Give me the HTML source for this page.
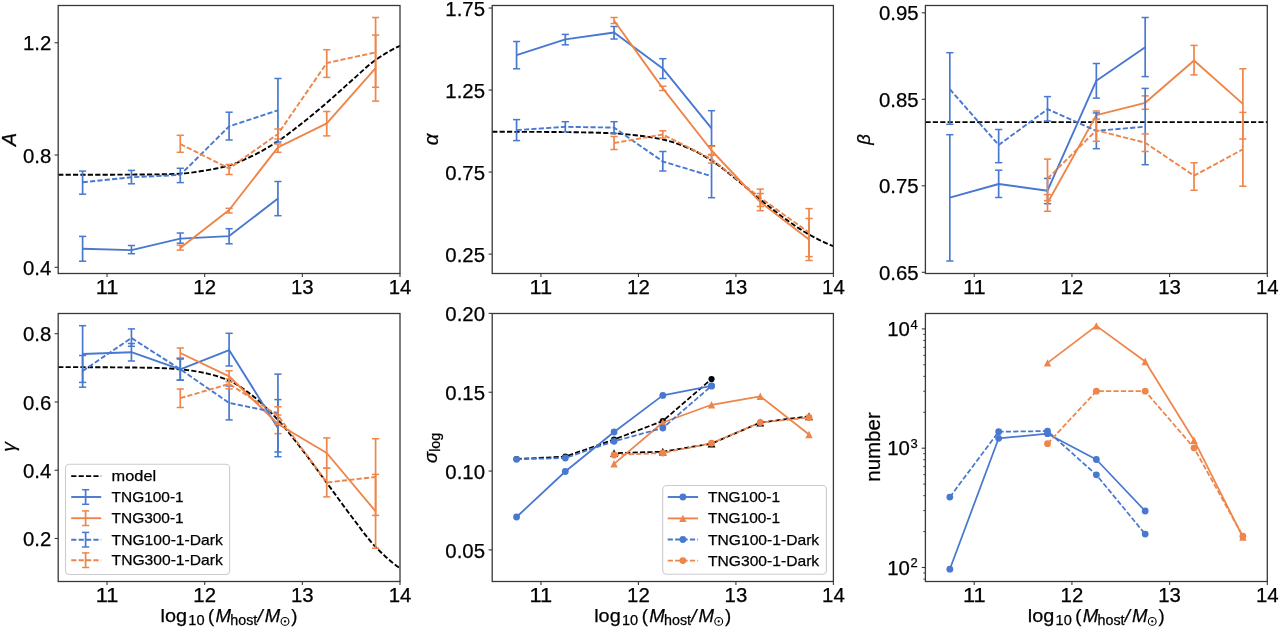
<!DOCTYPE html>
<html><head><meta charset="utf-8"><style>
html,body{margin:0;padding:0;background:#fff;}
svg{display:block;font-family:"Liberation Sans", sans-serif;filter:blur(0.3px);}
text{stroke:#000;stroke-width:0.25px;}
</style></head><body>
<svg width="1280" height="628" viewBox="0 0 1280 628">
<rect width="1280" height="628" fill="#fff"/>
<polyline points="58.20,174.80 61.07,174.80 63.94,174.80 66.82,174.80 69.69,174.79 72.56,174.79 75.43,174.78 78.31,174.78 81.18,174.77 84.05,174.77 86.92,174.76 89.79,174.75 92.67,174.74 95.54,174.73 98.41,174.73 101.28,174.72 104.16,174.71 107.03,174.70 109.90,174.69 112.77,174.68 115.65,174.67 118.52,174.66 121.39,174.65 124.26,174.64 127.13,174.62 130.01,174.61 132.88,174.59 135.75,174.57 138.62,174.55 141.50,174.53 144.37,174.51 147.24,174.48 150.11,174.46 152.98,174.43 155.86,174.40 158.73,174.36 161.60,174.31 164.47,174.25 167.35,174.18 170.22,174.09 173.09,174.00 175.96,173.89 178.84,173.77 181.71,173.62 184.58,173.41 187.45,173.12 190.32,172.78 193.20,172.39 196.07,171.97 198.94,171.52 201.81,171.06 204.69,170.60 207.56,170.13 210.43,169.63 213.30,169.09 216.17,168.52 219.05,167.91 221.92,167.25 224.79,166.55 227.66,165.80 230.54,164.98 233.41,164.05 236.28,163.01 239.15,161.87 242.03,160.65 244.90,159.37 247.77,158.04 250.64,156.68 253.51,155.30 256.39,153.88 259.26,152.38 262.13,150.81 265.00,149.18 267.88,147.49 270.75,145.75 273.62,143.96 276.49,142.13 279.36,140.25 282.24,138.29 285.11,136.24 287.98,134.13 290.85,131.96 293.73,129.75 296.60,127.51 299.47,125.26 302.34,123.00 305.22,120.73 308.09,118.42 310.96,116.09 313.83,113.72 316.70,111.33 319.58,108.92 322.45,106.48 325.32,104.03 328.19,101.56 331.07,99.04 333.94,96.49 336.81,93.90 339.68,91.30 342.55,88.70 345.43,86.11 348.30,83.54 351.17,81.00 354.04,78.44 356.92,75.83 359.79,73.20 362.66,70.59 365.53,68.03 368.41,65.56 371.28,63.21 374.15,61.02 377.02,59.01 379.89,57.08 382.77,55.21 385.64,53.42 388.51,51.71 391.38,50.09 394.26,48.56 397.13,47.13 400.00,45.80" fill="none" stroke="#000" stroke-width="1.9" stroke-dasharray="5.2 2.2" stroke-linejoin="round"/>
<polyline points="82.61,248.80 131.44,250.10 180.27,238.60 229.10,236.10 277.93,198.60" fill="none" stroke="#4878d0" stroke-width="1.9" stroke-linejoin="round"/>
<line x1="82.61" y1="236.40" x2="82.61" y2="261.20" stroke="#4878d0" stroke-width="1.7"/>
<line x1="79.01" y1="236.40" x2="86.21" y2="236.40" stroke="#4878d0" stroke-width="1.5"/>
<line x1="79.01" y1="261.20" x2="86.21" y2="261.20" stroke="#4878d0" stroke-width="1.5"/>
<line x1="131.44" y1="245.50" x2="131.44" y2="253.70" stroke="#4878d0" stroke-width="1.7"/>
<line x1="127.84" y1="245.50" x2="135.04" y2="245.50" stroke="#4878d0" stroke-width="1.5"/>
<line x1="127.84" y1="253.70" x2="135.04" y2="253.70" stroke="#4878d0" stroke-width="1.5"/>
<line x1="180.27" y1="233.00" x2="180.27" y2="243.20" stroke="#4878d0" stroke-width="1.7"/>
<line x1="176.67" y1="233.00" x2="183.87" y2="233.00" stroke="#4878d0" stroke-width="1.5"/>
<line x1="176.67" y1="243.20" x2="183.87" y2="243.20" stroke="#4878d0" stroke-width="1.5"/>
<line x1="229.10" y1="228.70" x2="229.10" y2="243.80" stroke="#4878d0" stroke-width="1.7"/>
<line x1="225.50" y1="228.70" x2="232.70" y2="228.70" stroke="#4878d0" stroke-width="1.5"/>
<line x1="225.50" y1="243.80" x2="232.70" y2="243.80" stroke="#4878d0" stroke-width="1.5"/>
<line x1="277.93" y1="181.50" x2="277.93" y2="215.70" stroke="#4878d0" stroke-width="1.7"/>
<line x1="274.33" y1="181.50" x2="281.53" y2="181.50" stroke="#4878d0" stroke-width="1.5"/>
<line x1="274.33" y1="215.70" x2="281.53" y2="215.70" stroke="#4878d0" stroke-width="1.5"/>
<polyline points="180.27,248.00 229.10,210.00 277.93,147.40 326.76,123.30 375.59,68.20" fill="none" stroke="#ee854a" stroke-width="1.9" stroke-linejoin="round"/>
<line x1="180.27" y1="245.20" x2="180.27" y2="250.10" stroke="#ee854a" stroke-width="1.7"/>
<line x1="176.67" y1="245.20" x2="183.87" y2="245.20" stroke="#ee854a" stroke-width="1.5"/>
<line x1="176.67" y1="250.10" x2="183.87" y2="250.10" stroke="#ee854a" stroke-width="1.5"/>
<line x1="229.10" y1="208.30" x2="229.10" y2="213.00" stroke="#ee854a" stroke-width="1.7"/>
<line x1="225.50" y1="208.30" x2="232.70" y2="208.30" stroke="#ee854a" stroke-width="1.5"/>
<line x1="225.50" y1="213.00" x2="232.70" y2="213.00" stroke="#ee854a" stroke-width="1.5"/>
<line x1="277.93" y1="144.00" x2="277.93" y2="152.30" stroke="#ee854a" stroke-width="1.7"/>
<line x1="274.33" y1="144.00" x2="281.53" y2="144.00" stroke="#ee854a" stroke-width="1.5"/>
<line x1="274.33" y1="152.30" x2="281.53" y2="152.30" stroke="#ee854a" stroke-width="1.5"/>
<line x1="326.76" y1="111.50" x2="326.76" y2="135.90" stroke="#ee854a" stroke-width="1.7"/>
<line x1="323.16" y1="111.50" x2="330.36" y2="111.50" stroke="#ee854a" stroke-width="1.5"/>
<line x1="323.16" y1="135.90" x2="330.36" y2="135.90" stroke="#ee854a" stroke-width="1.5"/>
<line x1="375.59" y1="35.10" x2="375.59" y2="101.10" stroke="#ee854a" stroke-width="1.7"/>
<line x1="371.99" y1="35.10" x2="379.19" y2="35.10" stroke="#ee854a" stroke-width="1.5"/>
<line x1="371.99" y1="101.10" x2="379.19" y2="101.10" stroke="#ee854a" stroke-width="1.5"/>
<polyline points="82.61,182.20 131.44,177.30 180.27,174.90 229.10,126.40 277.93,110.30" fill="none" stroke="#4878d0" stroke-width="1.9" stroke-dasharray="5.2 2.2" stroke-linejoin="round"/>
<line x1="82.61" y1="171.10" x2="82.61" y2="194.20" stroke="#4878d0" stroke-width="1.7"/>
<line x1="79.01" y1="171.10" x2="86.21" y2="171.10" stroke="#4878d0" stroke-width="1.5"/>
<line x1="79.01" y1="194.20" x2="86.21" y2="194.20" stroke="#4878d0" stroke-width="1.5"/>
<line x1="131.44" y1="170.40" x2="131.44" y2="183.80" stroke="#4878d0" stroke-width="1.7"/>
<line x1="127.84" y1="170.40" x2="135.04" y2="170.40" stroke="#4878d0" stroke-width="1.5"/>
<line x1="127.84" y1="183.80" x2="135.04" y2="183.80" stroke="#4878d0" stroke-width="1.5"/>
<line x1="180.27" y1="168.30" x2="180.27" y2="182.60" stroke="#4878d0" stroke-width="1.7"/>
<line x1="176.67" y1="168.30" x2="183.87" y2="168.30" stroke="#4878d0" stroke-width="1.5"/>
<line x1="176.67" y1="182.60" x2="183.87" y2="182.60" stroke="#4878d0" stroke-width="1.5"/>
<line x1="229.10" y1="112.20" x2="229.10" y2="140.00" stroke="#4878d0" stroke-width="1.7"/>
<line x1="225.50" y1="112.20" x2="232.70" y2="112.20" stroke="#4878d0" stroke-width="1.5"/>
<line x1="225.50" y1="140.00" x2="232.70" y2="140.00" stroke="#4878d0" stroke-width="1.5"/>
<line x1="277.93" y1="78.50" x2="277.93" y2="142.00" stroke="#4878d0" stroke-width="1.7"/>
<line x1="274.33" y1="78.50" x2="281.53" y2="78.50" stroke="#4878d0" stroke-width="1.5"/>
<line x1="274.33" y1="142.00" x2="281.53" y2="142.00" stroke="#4878d0" stroke-width="1.5"/>
<polyline points="180.27,144.00 229.10,168.50 277.93,134.00 326.76,63.00 375.59,52.40" fill="none" stroke="#ee854a" stroke-width="1.9" stroke-dasharray="5.2 2.2" stroke-linejoin="round"/>
<line x1="180.27" y1="135.30" x2="180.27" y2="152.30" stroke="#ee854a" stroke-width="1.7"/>
<line x1="176.67" y1="135.30" x2="183.87" y2="135.30" stroke="#ee854a" stroke-width="1.5"/>
<line x1="176.67" y1="152.30" x2="183.87" y2="152.30" stroke="#ee854a" stroke-width="1.5"/>
<line x1="229.10" y1="164.50" x2="229.10" y2="174.50" stroke="#ee854a" stroke-width="1.7"/>
<line x1="225.50" y1="164.50" x2="232.70" y2="164.50" stroke="#ee854a" stroke-width="1.5"/>
<line x1="225.50" y1="174.50" x2="232.70" y2="174.50" stroke="#ee854a" stroke-width="1.5"/>
<line x1="277.93" y1="129.00" x2="277.93" y2="139.00" stroke="#ee854a" stroke-width="1.7"/>
<line x1="274.33" y1="129.00" x2="281.53" y2="129.00" stroke="#ee854a" stroke-width="1.5"/>
<line x1="274.33" y1="139.00" x2="281.53" y2="139.00" stroke="#ee854a" stroke-width="1.5"/>
<line x1="326.76" y1="49.70" x2="326.76" y2="77.40" stroke="#ee854a" stroke-width="1.7"/>
<line x1="323.16" y1="49.70" x2="330.36" y2="49.70" stroke="#ee854a" stroke-width="1.5"/>
<line x1="323.16" y1="77.40" x2="330.36" y2="77.40" stroke="#ee854a" stroke-width="1.5"/>
<line x1="375.59" y1="17.50" x2="375.59" y2="87.30" stroke="#ee854a" stroke-width="1.7"/>
<line x1="371.99" y1="17.50" x2="379.19" y2="17.50" stroke="#ee854a" stroke-width="1.5"/>
<line x1="371.99" y1="87.30" x2="379.19" y2="87.30" stroke="#ee854a" stroke-width="1.5"/>
<polyline points="492.20,131.80 495.07,131.80 497.93,131.80 500.80,131.80 503.67,131.81 506.54,131.81 509.40,131.81 512.27,131.82 515.14,131.83 518.01,131.83 520.87,131.84 523.74,131.85 526.61,131.85 529.47,131.86 532.34,131.87 535.21,131.88 538.08,131.89 540.94,131.90 543.81,131.91 546.68,131.93 549.54,131.95 552.41,131.97 555.28,131.99 558.15,132.02 561.01,132.05 563.88,132.08 566.75,132.12 569.62,132.16 572.48,132.20 575.35,132.25 578.22,132.29 581.08,132.34 583.95,132.39 586.82,132.44 589.69,132.50 592.55,132.56 595.42,132.64 598.29,132.72 601.15,132.82 604.02,132.93 606.89,133.05 609.76,133.19 612.62,133.33 615.49,133.48 618.36,133.66 621.23,133.87 624.09,134.11 626.96,134.38 629.83,134.66 632.69,134.96 635.56,135.27 638.43,135.60 641.30,135.94 644.16,136.31 647.03,136.71 649.90,137.13 652.76,137.59 655.63,138.09 658.50,138.62 661.37,139.20 664.23,139.82 667.10,140.53 669.97,141.33 672.84,142.21 675.70,143.16 678.57,144.17 681.44,145.23 684.30,146.35 687.17,147.50 690.04,148.72 692.91,150.05 695.77,151.48 698.64,152.99 701.51,154.58 704.37,156.23 707.24,157.94 710.11,159.70 712.98,161.52 715.84,163.45 718.71,165.50 721.58,167.64 724.45,169.85 727.31,172.11 730.18,174.40 733.05,176.71 735.91,179.00 738.78,181.32 741.65,183.70 744.52,186.13 747.38,188.59 750.25,191.06 753.12,193.52 755.98,195.95 758.85,198.33 761.72,200.66 764.59,202.98 767.45,205.29 770.32,207.59 773.19,209.86 776.06,212.09 778.92,214.28 781.79,216.42 784.66,218.50 787.52,220.54 790.39,222.56 793.26,224.55 796.13,226.50 798.99,228.40 801.86,230.24 804.73,232.01 807.59,233.69 810.46,235.29 813.33,236.84 816.20,238.34 819.06,239.79 821.93,241.19 824.80,242.53 827.67,243.82 830.53,245.04 833.40,246.20" fill="none" stroke="#000" stroke-width="1.9" stroke-dasharray="5.2 2.2" stroke-linejoin="round"/>
<polyline points="516.57,55.10 565.31,39.40 614.06,32.50 662.80,68.40 711.54,128.30" fill="none" stroke="#4878d0" stroke-width="1.9" stroke-linejoin="round"/>
<line x1="516.57" y1="41.50" x2="516.57" y2="68.80" stroke="#4878d0" stroke-width="1.7"/>
<line x1="512.97" y1="41.50" x2="520.17" y2="41.50" stroke="#4878d0" stroke-width="1.5"/>
<line x1="512.97" y1="68.80" x2="520.17" y2="68.80" stroke="#4878d0" stroke-width="1.5"/>
<line x1="565.31" y1="34.40" x2="565.31" y2="44.80" stroke="#4878d0" stroke-width="1.7"/>
<line x1="561.71" y1="34.40" x2="568.91" y2="34.40" stroke="#4878d0" stroke-width="1.5"/>
<line x1="561.71" y1="44.80" x2="568.91" y2="44.80" stroke="#4878d0" stroke-width="1.5"/>
<line x1="614.06" y1="26.50" x2="614.06" y2="39.00" stroke="#4878d0" stroke-width="1.7"/>
<line x1="610.46" y1="26.50" x2="617.66" y2="26.50" stroke="#4878d0" stroke-width="1.5"/>
<line x1="610.46" y1="39.00" x2="617.66" y2="39.00" stroke="#4878d0" stroke-width="1.5"/>
<line x1="662.80" y1="58.70" x2="662.80" y2="78.50" stroke="#4878d0" stroke-width="1.7"/>
<line x1="659.20" y1="58.70" x2="666.40" y2="58.70" stroke="#4878d0" stroke-width="1.5"/>
<line x1="659.20" y1="78.50" x2="666.40" y2="78.50" stroke="#4878d0" stroke-width="1.5"/>
<line x1="711.54" y1="110.70" x2="711.54" y2="145.80" stroke="#4878d0" stroke-width="1.7"/>
<line x1="707.94" y1="110.70" x2="715.14" y2="110.70" stroke="#4878d0" stroke-width="1.5"/>
<line x1="707.94" y1="145.80" x2="715.14" y2="145.80" stroke="#4878d0" stroke-width="1.5"/>
<polyline points="614.06,20.50 662.80,88.40 711.54,150.50 760.29,202.10 809.03,239.50" fill="none" stroke="#ee854a" stroke-width="1.9" stroke-linejoin="round"/>
<line x1="614.06" y1="17.50" x2="614.06" y2="23.50" stroke="#ee854a" stroke-width="1.7"/>
<line x1="610.46" y1="17.50" x2="617.66" y2="17.50" stroke="#ee854a" stroke-width="1.5"/>
<line x1="610.46" y1="23.50" x2="617.66" y2="23.50" stroke="#ee854a" stroke-width="1.5"/>
<line x1="662.80" y1="86.20" x2="662.80" y2="90.50" stroke="#ee854a" stroke-width="1.7"/>
<line x1="659.20" y1="86.20" x2="666.40" y2="86.20" stroke="#ee854a" stroke-width="1.5"/>
<line x1="659.20" y1="90.50" x2="666.40" y2="90.50" stroke="#ee854a" stroke-width="1.5"/>
<line x1="711.54" y1="146.30" x2="711.54" y2="154.60" stroke="#ee854a" stroke-width="1.7"/>
<line x1="707.94" y1="146.30" x2="715.14" y2="146.30" stroke="#ee854a" stroke-width="1.5"/>
<line x1="707.94" y1="154.60" x2="715.14" y2="154.60" stroke="#ee854a" stroke-width="1.5"/>
<line x1="760.29" y1="193.50" x2="760.29" y2="210.70" stroke="#ee854a" stroke-width="1.7"/>
<line x1="756.69" y1="193.50" x2="763.89" y2="193.50" stroke="#ee854a" stroke-width="1.5"/>
<line x1="756.69" y1="210.70" x2="763.89" y2="210.70" stroke="#ee854a" stroke-width="1.5"/>
<line x1="809.03" y1="218.50" x2="809.03" y2="260.50" stroke="#ee854a" stroke-width="1.7"/>
<line x1="805.43" y1="218.50" x2="812.63" y2="218.50" stroke="#ee854a" stroke-width="1.5"/>
<line x1="805.43" y1="260.50" x2="812.63" y2="260.50" stroke="#ee854a" stroke-width="1.5"/>
<polyline points="516.57,130.10 565.31,126.80 614.06,127.60 662.80,161.50 711.54,176.20" fill="none" stroke="#4878d0" stroke-width="1.9" stroke-dasharray="5.2 2.2" stroke-linejoin="round"/>
<line x1="516.57" y1="119.60" x2="516.57" y2="140.60" stroke="#4878d0" stroke-width="1.7"/>
<line x1="512.97" y1="119.60" x2="520.17" y2="119.60" stroke="#4878d0" stroke-width="1.5"/>
<line x1="512.97" y1="140.60" x2="520.17" y2="140.60" stroke="#4878d0" stroke-width="1.5"/>
<line x1="565.31" y1="121.70" x2="565.31" y2="131.80" stroke="#4878d0" stroke-width="1.7"/>
<line x1="561.71" y1="121.70" x2="568.91" y2="121.70" stroke="#4878d0" stroke-width="1.5"/>
<line x1="561.71" y1="131.80" x2="568.91" y2="131.80" stroke="#4878d0" stroke-width="1.5"/>
<line x1="614.06" y1="121.70" x2="614.06" y2="133.40" stroke="#4878d0" stroke-width="1.7"/>
<line x1="610.46" y1="121.70" x2="617.66" y2="121.70" stroke="#4878d0" stroke-width="1.5"/>
<line x1="610.46" y1="133.40" x2="617.66" y2="133.40" stroke="#4878d0" stroke-width="1.5"/>
<line x1="662.80" y1="151.50" x2="662.80" y2="171.00" stroke="#4878d0" stroke-width="1.7"/>
<line x1="659.20" y1="151.50" x2="666.40" y2="151.50" stroke="#4878d0" stroke-width="1.5"/>
<line x1="659.20" y1="171.00" x2="666.40" y2="171.00" stroke="#4878d0" stroke-width="1.5"/>
<line x1="711.54" y1="154.70" x2="711.54" y2="197.70" stroke="#4878d0" stroke-width="1.7"/>
<line x1="707.94" y1="154.70" x2="715.14" y2="154.70" stroke="#4878d0" stroke-width="1.5"/>
<line x1="707.94" y1="197.70" x2="715.14" y2="197.70" stroke="#4878d0" stroke-width="1.5"/>
<polyline points="614.06,143.00 662.80,134.50 711.54,159.00 760.29,197.80 809.03,232.60" fill="none" stroke="#ee854a" stroke-width="1.9" stroke-dasharray="5.2 2.2" stroke-linejoin="round"/>
<line x1="614.06" y1="136.50" x2="614.06" y2="149.50" stroke="#ee854a" stroke-width="1.7"/>
<line x1="610.46" y1="136.50" x2="617.66" y2="136.50" stroke="#ee854a" stroke-width="1.5"/>
<line x1="610.46" y1="149.50" x2="617.66" y2="149.50" stroke="#ee854a" stroke-width="1.5"/>
<line x1="662.80" y1="130.80" x2="662.80" y2="138.00" stroke="#ee854a" stroke-width="1.7"/>
<line x1="659.20" y1="130.80" x2="666.40" y2="130.80" stroke="#ee854a" stroke-width="1.5"/>
<line x1="659.20" y1="138.00" x2="666.40" y2="138.00" stroke="#ee854a" stroke-width="1.5"/>
<line x1="711.54" y1="154.60" x2="711.54" y2="163.20" stroke="#ee854a" stroke-width="1.7"/>
<line x1="707.94" y1="154.60" x2="715.14" y2="154.60" stroke="#ee854a" stroke-width="1.5"/>
<line x1="707.94" y1="163.20" x2="715.14" y2="163.20" stroke="#ee854a" stroke-width="1.5"/>
<line x1="760.29" y1="189.10" x2="760.29" y2="206.50" stroke="#ee854a" stroke-width="1.7"/>
<line x1="756.69" y1="189.10" x2="763.89" y2="189.10" stroke="#ee854a" stroke-width="1.5"/>
<line x1="756.69" y1="206.50" x2="763.89" y2="206.50" stroke="#ee854a" stroke-width="1.5"/>
<line x1="809.03" y1="208.60" x2="809.03" y2="256.60" stroke="#ee854a" stroke-width="1.7"/>
<line x1="805.43" y1="208.60" x2="812.63" y2="208.60" stroke="#ee854a" stroke-width="1.5"/>
<line x1="805.43" y1="256.60" x2="812.63" y2="256.60" stroke="#ee854a" stroke-width="1.5"/>
<polyline points="925.40,122.10 1267.30,122.10" fill="none" stroke="#000" stroke-width="1.9" stroke-dasharray="5.2 2.2" stroke-linejoin="round"/>
<polyline points="949.82,197.70 998.66,184.00 1047.51,190.70 1096.35,80.70 1145.19,47.30" fill="none" stroke="#4878d0" stroke-width="1.9" stroke-linejoin="round"/>
<line x1="949.82" y1="134.70" x2="949.82" y2="261.00" stroke="#4878d0" stroke-width="1.7"/>
<line x1="946.22" y1="134.70" x2="953.42" y2="134.70" stroke="#4878d0" stroke-width="1.5"/>
<line x1="946.22" y1="261.00" x2="953.42" y2="261.00" stroke="#4878d0" stroke-width="1.5"/>
<line x1="998.66" y1="170.20" x2="998.66" y2="197.50" stroke="#4878d0" stroke-width="1.7"/>
<line x1="995.06" y1="170.20" x2="1002.26" y2="170.20" stroke="#4878d0" stroke-width="1.5"/>
<line x1="995.06" y1="197.50" x2="1002.26" y2="197.50" stroke="#4878d0" stroke-width="1.5"/>
<line x1="1047.51" y1="178.40" x2="1047.51" y2="203.70" stroke="#4878d0" stroke-width="1.7"/>
<line x1="1043.91" y1="178.40" x2="1051.11" y2="178.40" stroke="#4878d0" stroke-width="1.5"/>
<line x1="1043.91" y1="203.70" x2="1051.11" y2="203.70" stroke="#4878d0" stroke-width="1.5"/>
<line x1="1096.35" y1="63.50" x2="1096.35" y2="98.10" stroke="#4878d0" stroke-width="1.7"/>
<line x1="1092.75" y1="63.50" x2="1099.95" y2="63.50" stroke="#4878d0" stroke-width="1.5"/>
<line x1="1092.75" y1="98.10" x2="1099.95" y2="98.10" stroke="#4878d0" stroke-width="1.5"/>
<line x1="1145.19" y1="17.50" x2="1145.19" y2="76.60" stroke="#4878d0" stroke-width="1.7"/>
<line x1="1141.59" y1="17.50" x2="1148.79" y2="17.50" stroke="#4878d0" stroke-width="1.5"/>
<line x1="1141.59" y1="76.60" x2="1148.79" y2="76.60" stroke="#4878d0" stroke-width="1.5"/>
<polyline points="1047.51,203.00 1096.35,115.10 1145.19,102.80 1194.04,60.50 1242.88,103.90" fill="none" stroke="#ee854a" stroke-width="1.9" stroke-linejoin="round"/>
<line x1="1047.51" y1="194.60" x2="1047.51" y2="211.30" stroke="#ee854a" stroke-width="1.7"/>
<line x1="1043.91" y1="194.60" x2="1051.11" y2="194.60" stroke="#ee854a" stroke-width="1.5"/>
<line x1="1043.91" y1="211.30" x2="1051.11" y2="211.30" stroke="#ee854a" stroke-width="1.5"/>
<line x1="1096.35" y1="111.00" x2="1096.35" y2="119.30" stroke="#ee854a" stroke-width="1.7"/>
<line x1="1092.75" y1="111.00" x2="1099.95" y2="111.00" stroke="#ee854a" stroke-width="1.5"/>
<line x1="1092.75" y1="119.30" x2="1099.95" y2="119.30" stroke="#ee854a" stroke-width="1.5"/>
<line x1="1145.19" y1="95.90" x2="1145.19" y2="109.30" stroke="#ee854a" stroke-width="1.7"/>
<line x1="1141.59" y1="95.90" x2="1148.79" y2="95.90" stroke="#ee854a" stroke-width="1.5"/>
<line x1="1141.59" y1="109.30" x2="1148.79" y2="109.30" stroke="#ee854a" stroke-width="1.5"/>
<line x1="1194.04" y1="45.40" x2="1194.04" y2="74.90" stroke="#ee854a" stroke-width="1.7"/>
<line x1="1190.44" y1="45.40" x2="1197.64" y2="45.40" stroke="#ee854a" stroke-width="1.5"/>
<line x1="1190.44" y1="74.90" x2="1197.64" y2="74.90" stroke="#ee854a" stroke-width="1.5"/>
<line x1="1242.88" y1="68.80" x2="1242.88" y2="139.00" stroke="#ee854a" stroke-width="1.7"/>
<line x1="1239.28" y1="68.80" x2="1246.48" y2="68.80" stroke="#ee854a" stroke-width="1.5"/>
<line x1="1239.28" y1="139.00" x2="1246.48" y2="139.00" stroke="#ee854a" stroke-width="1.5"/>
<polyline points="949.82,89.20 998.66,145.00 1047.51,109.20 1096.35,130.80 1145.19,126.70" fill="none" stroke="#4878d0" stroke-width="1.9" stroke-dasharray="5.2 2.2" stroke-linejoin="round"/>
<line x1="949.82" y1="52.70" x2="949.82" y2="124.30" stroke="#4878d0" stroke-width="1.7"/>
<line x1="946.22" y1="52.70" x2="953.42" y2="52.70" stroke="#4878d0" stroke-width="1.5"/>
<line x1="946.22" y1="124.30" x2="953.42" y2="124.30" stroke="#4878d0" stroke-width="1.5"/>
<line x1="998.66" y1="129.50" x2="998.66" y2="162.70" stroke="#4878d0" stroke-width="1.7"/>
<line x1="995.06" y1="129.50" x2="1002.26" y2="129.50" stroke="#4878d0" stroke-width="1.5"/>
<line x1="995.06" y1="162.70" x2="1002.26" y2="162.70" stroke="#4878d0" stroke-width="1.5"/>
<line x1="1047.51" y1="96.60" x2="1047.51" y2="121.00" stroke="#4878d0" stroke-width="1.7"/>
<line x1="1043.91" y1="96.60" x2="1051.11" y2="96.60" stroke="#4878d0" stroke-width="1.5"/>
<line x1="1043.91" y1="121.00" x2="1051.11" y2="121.00" stroke="#4878d0" stroke-width="1.5"/>
<line x1="1096.35" y1="112.90" x2="1096.35" y2="148.70" stroke="#4878d0" stroke-width="1.7"/>
<line x1="1092.75" y1="112.90" x2="1099.95" y2="112.90" stroke="#4878d0" stroke-width="1.5"/>
<line x1="1092.75" y1="148.70" x2="1099.95" y2="148.70" stroke="#4878d0" stroke-width="1.5"/>
<line x1="1145.19" y1="88.40" x2="1145.19" y2="164.70" stroke="#4878d0" stroke-width="1.7"/>
<line x1="1141.59" y1="88.40" x2="1148.79" y2="88.40" stroke="#4878d0" stroke-width="1.5"/>
<line x1="1141.59" y1="164.70" x2="1148.79" y2="164.70" stroke="#4878d0" stroke-width="1.5"/>
<polyline points="1047.51,178.50 1096.35,130.30 1145.19,142.70 1194.04,175.70 1242.88,149.30" fill="none" stroke="#ee854a" stroke-width="1.9" stroke-dasharray="5.2 2.2" stroke-linejoin="round"/>
<line x1="1047.51" y1="159.10" x2="1047.51" y2="200.70" stroke="#ee854a" stroke-width="1.7"/>
<line x1="1043.91" y1="159.10" x2="1051.11" y2="159.10" stroke="#ee854a" stroke-width="1.5"/>
<line x1="1043.91" y1="200.70" x2="1051.11" y2="200.70" stroke="#ee854a" stroke-width="1.5"/>
<line x1="1096.35" y1="119.30" x2="1096.35" y2="141.30" stroke="#ee854a" stroke-width="1.7"/>
<line x1="1092.75" y1="119.30" x2="1099.95" y2="119.30" stroke="#ee854a" stroke-width="1.5"/>
<line x1="1092.75" y1="141.30" x2="1099.95" y2="141.30" stroke="#ee854a" stroke-width="1.5"/>
<line x1="1145.19" y1="133.90" x2="1145.19" y2="151.50" stroke="#ee854a" stroke-width="1.7"/>
<line x1="1141.59" y1="133.90" x2="1148.79" y2="133.90" stroke="#ee854a" stroke-width="1.5"/>
<line x1="1141.59" y1="151.50" x2="1148.79" y2="151.50" stroke="#ee854a" stroke-width="1.5"/>
<line x1="1194.04" y1="162.80" x2="1194.04" y2="190.30" stroke="#ee854a" stroke-width="1.7"/>
<line x1="1190.44" y1="162.80" x2="1197.64" y2="162.80" stroke="#ee854a" stroke-width="1.5"/>
<line x1="1190.44" y1="190.30" x2="1197.64" y2="190.30" stroke="#ee854a" stroke-width="1.5"/>
<line x1="1242.88" y1="112.40" x2="1242.88" y2="186.20" stroke="#ee854a" stroke-width="1.7"/>
<line x1="1239.28" y1="112.40" x2="1246.48" y2="112.40" stroke="#ee854a" stroke-width="1.5"/>
<line x1="1239.28" y1="186.20" x2="1246.48" y2="186.20" stroke="#ee854a" stroke-width="1.5"/>
<polyline points="58.20,367.10 61.07,367.10 63.94,367.10 66.82,367.11 69.69,367.12 72.56,367.12 75.43,367.13 78.31,367.14 81.18,367.16 84.05,367.17 86.92,367.18 89.79,367.20 92.67,367.21 95.54,367.23 98.41,367.25 101.28,367.26 104.16,367.28 107.03,367.30 109.90,367.32 112.77,367.34 115.65,367.36 118.52,367.38 121.39,367.40 124.26,367.43 127.13,367.46 130.01,367.49 132.88,367.52 135.75,367.56 138.62,367.60 141.50,367.64 144.37,367.68 147.24,367.73 150.11,367.78 152.98,367.84 155.86,367.90 158.73,367.98 161.60,368.08 164.47,368.22 167.35,368.37 170.22,368.55 173.09,368.74 175.96,368.96 178.84,369.18 181.71,369.43 184.58,369.72 187.45,370.07 190.32,370.46 193.20,370.89 196.07,371.37 198.94,371.88 201.81,372.43 204.69,373.00 207.56,373.62 210.43,374.31 213.30,375.08 216.17,375.92 219.05,376.83 221.92,377.81 224.79,378.87 227.66,380.00 230.54,381.23 233.41,382.66 236.28,384.27 239.15,386.04 242.03,387.96 244.90,389.99 247.77,392.10 250.64,394.28 253.51,396.50 256.39,398.81 259.26,401.27 262.13,403.86 265.00,406.58 267.88,409.40 270.75,412.32 273.62,415.31 276.49,418.36 279.36,421.47 282.24,424.73 285.11,428.12 287.98,431.63 290.85,435.22 293.73,438.88 296.60,442.58 299.47,446.29 302.34,450.00 305.22,453.73 308.09,457.52 310.96,461.35 313.83,465.23 316.70,469.13 319.58,473.04 322.45,476.95 325.32,480.86 328.19,484.75 331.07,488.67 333.94,492.61 336.81,496.56 339.68,500.51 342.55,504.44 345.43,508.34 348.30,512.20 351.17,516.00 354.04,519.81 356.92,523.66 359.79,527.53 362.66,531.35 365.53,535.10 368.41,538.71 371.28,542.16 374.15,545.38 377.02,548.37 379.89,551.25 382.77,554.03 385.64,556.71 388.51,559.27 391.38,561.71 394.26,564.01 397.13,566.18 400.00,568.20" fill="none" stroke="#000" stroke-width="1.9" stroke-dasharray="5.2 2.2" stroke-linejoin="round"/>
<polyline points="82.61,354.00 131.44,352.20 180.27,369.30 229.10,350.10 277.93,428.00" fill="none" stroke="#4878d0" stroke-width="1.9" stroke-linejoin="round"/>
<line x1="82.61" y1="325.70" x2="82.61" y2="382.40" stroke="#4878d0" stroke-width="1.7"/>
<line x1="79.01" y1="325.70" x2="86.21" y2="325.70" stroke="#4878d0" stroke-width="1.5"/>
<line x1="79.01" y1="382.40" x2="86.21" y2="382.40" stroke="#4878d0" stroke-width="1.5"/>
<line x1="131.44" y1="343.50" x2="131.44" y2="361.00" stroke="#4878d0" stroke-width="1.7"/>
<line x1="127.84" y1="343.50" x2="135.04" y2="343.50" stroke="#4878d0" stroke-width="1.5"/>
<line x1="127.84" y1="361.00" x2="135.04" y2="361.00" stroke="#4878d0" stroke-width="1.5"/>
<line x1="180.27" y1="358.40" x2="180.27" y2="380.20" stroke="#4878d0" stroke-width="1.7"/>
<line x1="176.67" y1="358.40" x2="183.87" y2="358.40" stroke="#4878d0" stroke-width="1.5"/>
<line x1="176.67" y1="380.20" x2="183.87" y2="380.20" stroke="#4878d0" stroke-width="1.5"/>
<line x1="229.10" y1="333.30" x2="229.10" y2="366.00" stroke="#4878d0" stroke-width="1.7"/>
<line x1="225.50" y1="333.30" x2="232.70" y2="333.30" stroke="#4878d0" stroke-width="1.5"/>
<line x1="225.50" y1="366.00" x2="232.70" y2="366.00" stroke="#4878d0" stroke-width="1.5"/>
<line x1="277.93" y1="399.60" x2="277.93" y2="456.70" stroke="#4878d0" stroke-width="1.7"/>
<line x1="274.33" y1="399.60" x2="281.53" y2="399.60" stroke="#4878d0" stroke-width="1.5"/>
<line x1="274.33" y1="456.70" x2="281.53" y2="456.70" stroke="#4878d0" stroke-width="1.5"/>
<polyline points="180.27,353.00 229.10,376.30 277.93,424.00 326.76,453.00 375.59,511.30" fill="none" stroke="#ee854a" stroke-width="1.9" stroke-linejoin="round"/>
<line x1="180.27" y1="348.00" x2="180.27" y2="358.00" stroke="#ee854a" stroke-width="1.7"/>
<line x1="176.67" y1="348.00" x2="183.87" y2="348.00" stroke="#ee854a" stroke-width="1.5"/>
<line x1="176.67" y1="358.00" x2="183.87" y2="358.00" stroke="#ee854a" stroke-width="1.5"/>
<line x1="229.10" y1="370.80" x2="229.10" y2="381.80" stroke="#ee854a" stroke-width="1.7"/>
<line x1="225.50" y1="370.80" x2="232.70" y2="370.80" stroke="#ee854a" stroke-width="1.5"/>
<line x1="225.50" y1="381.80" x2="232.70" y2="381.80" stroke="#ee854a" stroke-width="1.5"/>
<line x1="277.93" y1="415.00" x2="277.93" y2="433.60" stroke="#ee854a" stroke-width="1.7"/>
<line x1="274.33" y1="415.00" x2="281.53" y2="415.00" stroke="#ee854a" stroke-width="1.5"/>
<line x1="274.33" y1="433.60" x2="281.53" y2="433.60" stroke="#ee854a" stroke-width="1.5"/>
<line x1="326.76" y1="437.90" x2="326.76" y2="468.20" stroke="#ee854a" stroke-width="1.7"/>
<line x1="323.16" y1="437.90" x2="330.36" y2="437.90" stroke="#ee854a" stroke-width="1.5"/>
<line x1="323.16" y1="468.20" x2="330.36" y2="468.20" stroke="#ee854a" stroke-width="1.5"/>
<line x1="375.59" y1="474.40" x2="375.59" y2="548.20" stroke="#ee854a" stroke-width="1.7"/>
<line x1="371.99" y1="474.40" x2="379.19" y2="474.40" stroke="#ee854a" stroke-width="1.5"/>
<line x1="371.99" y1="548.20" x2="379.19" y2="548.20" stroke="#ee854a" stroke-width="1.5"/>
<polyline points="82.61,371.00 131.44,338.00 180.27,369.30 229.10,402.90 277.93,413.00" fill="none" stroke="#4878d0" stroke-width="1.9" stroke-dasharray="5.2 2.2" stroke-linejoin="round"/>
<line x1="82.61" y1="355.50" x2="82.61" y2="387.20" stroke="#4878d0" stroke-width="1.7"/>
<line x1="79.01" y1="355.50" x2="86.21" y2="355.50" stroke="#4878d0" stroke-width="1.5"/>
<line x1="79.01" y1="387.20" x2="86.21" y2="387.20" stroke="#4878d0" stroke-width="1.5"/>
<line x1="131.44" y1="328.90" x2="131.44" y2="346.30" stroke="#4878d0" stroke-width="1.7"/>
<line x1="127.84" y1="328.90" x2="135.04" y2="328.90" stroke="#4878d0" stroke-width="1.5"/>
<line x1="127.84" y1="346.30" x2="135.04" y2="346.30" stroke="#4878d0" stroke-width="1.5"/>
<line x1="180.27" y1="359.00" x2="180.27" y2="380.00" stroke="#4878d0" stroke-width="1.7"/>
<line x1="176.67" y1="359.00" x2="183.87" y2="359.00" stroke="#4878d0" stroke-width="1.5"/>
<line x1="176.67" y1="380.00" x2="183.87" y2="380.00" stroke="#4878d0" stroke-width="1.5"/>
<line x1="229.10" y1="386.00" x2="229.10" y2="419.90" stroke="#4878d0" stroke-width="1.7"/>
<line x1="225.50" y1="386.00" x2="232.70" y2="386.00" stroke="#4878d0" stroke-width="1.5"/>
<line x1="225.50" y1="419.90" x2="232.70" y2="419.90" stroke="#4878d0" stroke-width="1.5"/>
<line x1="277.93" y1="374.10" x2="277.93" y2="452.00" stroke="#4878d0" stroke-width="1.7"/>
<line x1="274.33" y1="374.10" x2="281.53" y2="374.10" stroke="#4878d0" stroke-width="1.5"/>
<line x1="274.33" y1="452.00" x2="281.53" y2="452.00" stroke="#4878d0" stroke-width="1.5"/>
<polyline points="180.27,398.20 229.10,383.90 277.93,415.50 326.76,482.50 375.59,477.00" fill="none" stroke="#ee854a" stroke-width="1.9" stroke-dasharray="5.2 2.2" stroke-linejoin="round"/>
<line x1="180.27" y1="389.00" x2="180.27" y2="407.50" stroke="#ee854a" stroke-width="1.7"/>
<line x1="176.67" y1="389.00" x2="183.87" y2="389.00" stroke="#ee854a" stroke-width="1.5"/>
<line x1="176.67" y1="407.50" x2="183.87" y2="407.50" stroke="#ee854a" stroke-width="1.5"/>
<line x1="229.10" y1="379.00" x2="229.10" y2="388.90" stroke="#ee854a" stroke-width="1.7"/>
<line x1="225.50" y1="379.00" x2="232.70" y2="379.00" stroke="#ee854a" stroke-width="1.5"/>
<line x1="225.50" y1="388.90" x2="232.70" y2="388.90" stroke="#ee854a" stroke-width="1.5"/>
<line x1="277.93" y1="406.80" x2="277.93" y2="424.20" stroke="#ee854a" stroke-width="1.7"/>
<line x1="274.33" y1="406.80" x2="281.53" y2="406.80" stroke="#ee854a" stroke-width="1.5"/>
<line x1="274.33" y1="424.20" x2="281.53" y2="424.20" stroke="#ee854a" stroke-width="1.5"/>
<line x1="326.76" y1="468.20" x2="326.76" y2="496.90" stroke="#ee854a" stroke-width="1.7"/>
<line x1="323.16" y1="468.20" x2="330.36" y2="468.20" stroke="#ee854a" stroke-width="1.5"/>
<line x1="323.16" y1="496.90" x2="330.36" y2="496.90" stroke="#ee854a" stroke-width="1.5"/>
<line x1="375.59" y1="438.70" x2="375.59" y2="515.40" stroke="#ee854a" stroke-width="1.7"/>
<line x1="371.99" y1="438.70" x2="379.19" y2="438.70" stroke="#ee854a" stroke-width="1.5"/>
<line x1="371.99" y1="515.40" x2="379.19" y2="515.40" stroke="#ee854a" stroke-width="1.5"/>
<polyline points="516.57,459.00 565.31,456.60 614.06,439.50 662.80,421.00 711.54,379.00" fill="none" stroke="#000" stroke-width="1.75" stroke-dasharray="5.2 2.2" stroke-linejoin="round"/>
<circle cx="516.57" cy="459.00" r="3.1" fill="#000"/>
<circle cx="565.31" cy="456.60" r="3.1" fill="#000"/>
<circle cx="614.06" cy="439.50" r="3.1" fill="#000"/>
<circle cx="662.80" cy="421.00" r="3.1" fill="#000"/>
<circle cx="711.54" cy="379.00" r="3.1" fill="#000"/>
<polyline points="614.06,453.20 662.80,451.70 711.54,443.60 760.29,422.50 809.03,416.30" fill="none" stroke="#000" stroke-width="1.75" stroke-dasharray="5.2 2.2" stroke-dashoffset="3.7" stroke-linejoin="round"/>
<polygon points="614.06,449.30 617.96,457.10 610.16,457.10" fill="#000"/>
<polygon points="662.80,447.80 666.70,455.60 658.90,455.60" fill="#000"/>
<polygon points="711.54,439.70 715.44,447.50 707.64,447.50" fill="#000"/>
<polygon points="760.29,418.60 764.19,426.40 756.39,426.40" fill="#000"/>
<polygon points="809.03,412.40 812.93,420.20 805.13,420.20" fill="#000"/>
<polyline points="516.57,517.00 565.31,471.50 614.06,432.00 662.80,395.40 711.54,385.90" fill="none" stroke="#4878d0" stroke-width="1.75" stroke-linejoin="round"/>
<circle cx="516.57" cy="517.00" r="3.4" fill="#4878d0"/>
<circle cx="565.31" cy="471.50" r="3.4" fill="#4878d0"/>
<circle cx="614.06" cy="432.00" r="3.4" fill="#4878d0"/>
<circle cx="662.80" cy="395.40" r="3.4" fill="#4878d0"/>
<circle cx="711.54" cy="385.90" r="3.4" fill="#4878d0"/>
<polyline points="614.06,463.80 662.80,422.50 711.54,404.80 760.29,396.30 809.03,434.50" fill="none" stroke="#ee854a" stroke-width="1.75" stroke-linejoin="round"/>
<polygon points="614.06,460.10 617.76,467.50 610.36,467.50" fill="#ee854a"/>
<polygon points="662.80,418.80 666.50,426.20 659.10,426.20" fill="#ee854a"/>
<polygon points="711.54,401.10 715.24,408.50 707.84,408.50" fill="#ee854a"/>
<polygon points="760.29,392.60 763.99,400.00 756.59,400.00" fill="#ee854a"/>
<polygon points="809.03,430.80 812.73,438.20 805.33,438.20" fill="#ee854a"/>
<polyline points="516.57,459.30 565.31,458.00 614.06,441.30 662.80,428.00 711.54,385.90" fill="none" stroke="#4878d0" stroke-width="1.75" stroke-dasharray="5.2 2.2" stroke-linejoin="round"/>
<circle cx="516.57" cy="459.30" r="3.4" fill="#4878d0"/>
<circle cx="565.31" cy="458.00" r="3.4" fill="#4878d0"/>
<circle cx="614.06" cy="441.30" r="3.4" fill="#4878d0"/>
<circle cx="662.80" cy="428.00" r="3.4" fill="#4878d0"/>
<circle cx="711.54" cy="385.90" r="3.4" fill="#4878d0"/>
<polyline points="614.06,455.00 662.80,453.00 711.54,443.20 760.29,422.50 809.03,417.50" fill="none" stroke="#ee854a" stroke-width="1.75" stroke-dasharray="5.2 2.2" stroke-linejoin="round"/>
<circle cx="614.06" cy="455.00" r="3.4" fill="#ee854a"/>
<circle cx="662.80" cy="453.00" r="3.4" fill="#ee854a"/>
<circle cx="711.54" cy="443.20" r="3.4" fill="#ee854a"/>
<circle cx="760.29" cy="422.50" r="3.4" fill="#ee854a"/>
<circle cx="809.03" cy="417.50" r="3.4" fill="#ee854a"/>
<polyline points="949.82,569.20 998.66,438.30 1047.51,433.70 1096.35,459.50 1145.19,511.00" fill="none" stroke="#4878d0" stroke-width="1.75" stroke-linejoin="round"/>
<circle cx="949.82" cy="569.20" r="3.4" fill="#4878d0"/>
<circle cx="998.66" cy="438.30" r="3.4" fill="#4878d0"/>
<circle cx="1047.51" cy="433.70" r="3.4" fill="#4878d0"/>
<circle cx="1096.35" cy="459.50" r="3.4" fill="#4878d0"/>
<circle cx="1145.19" cy="511.00" r="3.4" fill="#4878d0"/>
<polyline points="1047.51,362.90 1096.35,325.90 1145.19,361.50 1194.04,440.20 1242.88,537.10" fill="none" stroke="#ee854a" stroke-width="1.75" stroke-linejoin="round"/>
<polygon points="1047.51,359.20 1051.21,366.60 1043.81,366.60" fill="#ee854a"/>
<polygon points="1096.35,322.20 1100.05,329.60 1092.65,329.60" fill="#ee854a"/>
<polygon points="1145.19,357.80 1148.89,365.20 1141.49,365.20" fill="#ee854a"/>
<polygon points="1194.04,436.50 1197.74,443.90 1190.34,443.90" fill="#ee854a"/>
<polygon points="1242.88,533.40 1246.58,540.80 1239.18,540.80" fill="#ee854a"/>
<polyline points="949.82,497.10 998.66,431.70 1047.51,431.10 1096.35,474.85 1145.19,534.10" fill="none" stroke="#4878d0" stroke-width="1.75" stroke-dasharray="5.2 2.2" stroke-linejoin="round"/>
<circle cx="949.82" cy="497.10" r="3.4" fill="#4878d0"/>
<circle cx="998.66" cy="431.70" r="3.4" fill="#4878d0"/>
<circle cx="1047.51" cy="431.10" r="3.4" fill="#4878d0"/>
<circle cx="1096.35" cy="474.85" r="3.4" fill="#4878d0"/>
<circle cx="1145.19" cy="534.10" r="3.4" fill="#4878d0"/>
<polyline points="1047.51,443.70 1096.35,391.20 1145.19,391.20 1194.04,447.90 1242.88,536.20" fill="none" stroke="#ee854a" stroke-width="1.75" stroke-dasharray="5.2 2.2" stroke-linejoin="round"/>
<circle cx="1047.51" cy="443.70" r="3.4" fill="#ee854a"/>
<circle cx="1096.35" cy="391.20" r="3.4" fill="#ee854a"/>
<circle cx="1145.19" cy="391.20" r="3.4" fill="#ee854a"/>
<circle cx="1194.04" cy="447.90" r="3.4" fill="#ee854a"/>
<circle cx="1242.88" cy="536.20" r="3.4" fill="#ee854a"/>
<rect x="58.20" y="5.50" width="341.80" height="268.00" fill="none" stroke="#383838" stroke-width="1.3"/>
<rect x="492.20" y="5.50" width="341.20" height="268.00" fill="none" stroke="#383838" stroke-width="1.3"/>
<rect x="925.40" y="5.50" width="341.90" height="268.00" fill="none" stroke="#383838" stroke-width="1.3"/>
<rect x="58.20" y="313.50" width="341.80" height="268.00" fill="none" stroke="#383838" stroke-width="1.3"/>
<rect x="492.20" y="313.50" width="341.20" height="268.00" fill="none" stroke="#383838" stroke-width="1.3"/>
<rect x="925.40" y="313.50" width="341.90" height="268.00" fill="none" stroke="#383838" stroke-width="1.3"/>
<line x1="107.03" y1="273.50" x2="107.03" y2="277.10" stroke="#383838" stroke-width="1.1"/>
<text x="107.03" y="293.80" font-size="19.5" text-anchor="middle" textLength="22.65" lengthAdjust="spacingAndGlyphs" >11</text>
<line x1="204.69" y1="273.50" x2="204.69" y2="277.10" stroke="#383838" stroke-width="1.1"/>
<text x="204.69" y="293.80" font-size="19.5" text-anchor="middle" textLength="22.65" lengthAdjust="spacingAndGlyphs" >12</text>
<line x1="302.34" y1="273.50" x2="302.34" y2="277.10" stroke="#383838" stroke-width="1.1"/>
<text x="302.34" y="293.80" font-size="19.5" text-anchor="middle" textLength="22.65" lengthAdjust="spacingAndGlyphs" >13</text>
<line x1="400.00" y1="273.50" x2="400.00" y2="277.10" stroke="#383838" stroke-width="1.1"/>
<text x="400.00" y="293.80" font-size="19.5" text-anchor="middle" textLength="22.65" lengthAdjust="spacingAndGlyphs" >14</text>
<line x1="540.94" y1="273.50" x2="540.94" y2="277.10" stroke="#383838" stroke-width="1.1"/>
<text x="540.94" y="293.80" font-size="19.5" text-anchor="middle" textLength="22.65" lengthAdjust="spacingAndGlyphs" >11</text>
<line x1="638.43" y1="273.50" x2="638.43" y2="277.10" stroke="#383838" stroke-width="1.1"/>
<text x="638.43" y="293.80" font-size="19.5" text-anchor="middle" textLength="22.65" lengthAdjust="spacingAndGlyphs" >12</text>
<line x1="735.91" y1="273.50" x2="735.91" y2="277.10" stroke="#383838" stroke-width="1.1"/>
<text x="735.91" y="293.80" font-size="19.5" text-anchor="middle" textLength="22.65" lengthAdjust="spacingAndGlyphs" >13</text>
<line x1="833.40" y1="273.50" x2="833.40" y2="277.10" stroke="#383838" stroke-width="1.1"/>
<text x="833.40" y="293.80" font-size="19.5" text-anchor="middle" textLength="22.65" lengthAdjust="spacingAndGlyphs" >14</text>
<line x1="974.24" y1="273.50" x2="974.24" y2="277.10" stroke="#383838" stroke-width="1.1"/>
<text x="974.24" y="293.80" font-size="19.5" text-anchor="middle" textLength="22.65" lengthAdjust="spacingAndGlyphs" >11</text>
<line x1="1071.93" y1="273.50" x2="1071.93" y2="277.10" stroke="#383838" stroke-width="1.1"/>
<text x="1071.93" y="293.80" font-size="19.5" text-anchor="middle" textLength="22.65" lengthAdjust="spacingAndGlyphs" >12</text>
<line x1="1169.61" y1="273.50" x2="1169.61" y2="277.10" stroke="#383838" stroke-width="1.1"/>
<text x="1169.61" y="293.80" font-size="19.5" text-anchor="middle" textLength="22.65" lengthAdjust="spacingAndGlyphs" >13</text>
<line x1="1267.30" y1="273.50" x2="1267.30" y2="277.10" stroke="#383838" stroke-width="1.1"/>
<text x="1267.30" y="293.80" font-size="19.5" text-anchor="middle" textLength="22.65" lengthAdjust="spacingAndGlyphs" >14</text>
<line x1="107.03" y1="581.50" x2="107.03" y2="585.10" stroke="#383838" stroke-width="1.1"/>
<text x="107.03" y="602.00" font-size="19.5" text-anchor="middle" textLength="22.65" lengthAdjust="spacingAndGlyphs" >11</text>
<line x1="204.69" y1="581.50" x2="204.69" y2="585.10" stroke="#383838" stroke-width="1.1"/>
<text x="204.69" y="602.00" font-size="19.5" text-anchor="middle" textLength="22.65" lengthAdjust="spacingAndGlyphs" >12</text>
<line x1="302.34" y1="581.50" x2="302.34" y2="585.10" stroke="#383838" stroke-width="1.1"/>
<text x="302.34" y="602.00" font-size="19.5" text-anchor="middle" textLength="22.65" lengthAdjust="spacingAndGlyphs" >13</text>
<line x1="400.00" y1="581.50" x2="400.00" y2="585.10" stroke="#383838" stroke-width="1.1"/>
<text x="400.00" y="602.00" font-size="19.5" text-anchor="middle" textLength="22.65" lengthAdjust="spacingAndGlyphs" >14</text>
<line x1="540.94" y1="581.50" x2="540.94" y2="585.10" stroke="#383838" stroke-width="1.1"/>
<text x="540.94" y="602.00" font-size="19.5" text-anchor="middle" textLength="22.65" lengthAdjust="spacingAndGlyphs" >11</text>
<line x1="638.43" y1="581.50" x2="638.43" y2="585.10" stroke="#383838" stroke-width="1.1"/>
<text x="638.43" y="602.00" font-size="19.5" text-anchor="middle" textLength="22.65" lengthAdjust="spacingAndGlyphs" >12</text>
<line x1="735.91" y1="581.50" x2="735.91" y2="585.10" stroke="#383838" stroke-width="1.1"/>
<text x="735.91" y="602.00" font-size="19.5" text-anchor="middle" textLength="22.65" lengthAdjust="spacingAndGlyphs" >13</text>
<line x1="833.40" y1="581.50" x2="833.40" y2="585.10" stroke="#383838" stroke-width="1.1"/>
<text x="833.40" y="602.00" font-size="19.5" text-anchor="middle" textLength="22.65" lengthAdjust="spacingAndGlyphs" >14</text>
<line x1="974.24" y1="581.50" x2="974.24" y2="585.10" stroke="#383838" stroke-width="1.1"/>
<text x="974.24" y="602.00" font-size="19.5" text-anchor="middle" textLength="22.65" lengthAdjust="spacingAndGlyphs" >11</text>
<line x1="1071.93" y1="581.50" x2="1071.93" y2="585.10" stroke="#383838" stroke-width="1.1"/>
<text x="1071.93" y="602.00" font-size="19.5" text-anchor="middle" textLength="22.65" lengthAdjust="spacingAndGlyphs" >12</text>
<line x1="1169.61" y1="581.50" x2="1169.61" y2="585.10" stroke="#383838" stroke-width="1.1"/>
<text x="1169.61" y="602.00" font-size="19.5" text-anchor="middle" textLength="22.65" lengthAdjust="spacingAndGlyphs" >13</text>
<line x1="1267.30" y1="581.50" x2="1267.30" y2="585.10" stroke="#383838" stroke-width="1.1"/>
<text x="1267.30" y="602.00" font-size="19.5" text-anchor="middle" textLength="22.65" lengthAdjust="spacingAndGlyphs" >14</text>
<line x1="54.60" y1="267.30" x2="58.20" y2="267.30" stroke="#383838" stroke-width="1.1"/>
<text x="51.30" y="274.90" font-size="19.5" text-anchor="end" textLength="28.31" lengthAdjust="spacingAndGlyphs" >0.4</text>
<line x1="54.60" y1="155.02" x2="58.20" y2="155.02" stroke="#383838" stroke-width="1.1"/>
<text x="51.30" y="162.62" font-size="19.5" text-anchor="end" textLength="28.31" lengthAdjust="spacingAndGlyphs" >0.8</text>
<line x1="54.60" y1="42.74" x2="58.20" y2="42.74" stroke="#383838" stroke-width="1.1"/>
<text x="51.30" y="50.34" font-size="19.5" text-anchor="end" textLength="28.31" lengthAdjust="spacingAndGlyphs" >1.2</text>
<line x1="488.60" y1="254.10" x2="492.20" y2="254.10" stroke="#383838" stroke-width="1.1"/>
<text x="485.00" y="261.70" font-size="19.5" text-anchor="end" textLength="39.63" lengthAdjust="spacingAndGlyphs" >0.25</text>
<line x1="488.60" y1="172.08" x2="492.20" y2="172.08" stroke="#383838" stroke-width="1.1"/>
<text x="485.00" y="179.68" font-size="19.5" text-anchor="end" textLength="39.63" lengthAdjust="spacingAndGlyphs" >0.75</text>
<line x1="488.60" y1="90.06" x2="492.20" y2="90.06" stroke="#383838" stroke-width="1.1"/>
<text x="485.00" y="97.66" font-size="19.5" text-anchor="end" textLength="39.63" lengthAdjust="spacingAndGlyphs" >1.25</text>
<line x1="488.60" y1="8.04" x2="492.20" y2="8.04" stroke="#383838" stroke-width="1.1"/>
<text x="485.00" y="15.64" font-size="19.5" text-anchor="end" textLength="39.63" lengthAdjust="spacingAndGlyphs" >1.75</text>
<line x1="921.80" y1="272.30" x2="925.40" y2="272.30" stroke="#383838" stroke-width="1.1"/>
<text x="918.60" y="279.90" font-size="19.5" text-anchor="end" textLength="39.63" lengthAdjust="spacingAndGlyphs" >0.65</text>
<line x1="921.80" y1="185.80" x2="925.40" y2="185.80" stroke="#383838" stroke-width="1.1"/>
<text x="918.60" y="193.40" font-size="19.5" text-anchor="end" textLength="39.63" lengthAdjust="spacingAndGlyphs" >0.75</text>
<line x1="921.80" y1="99.30" x2="925.40" y2="99.30" stroke="#383838" stroke-width="1.1"/>
<text x="918.60" y="106.90" font-size="19.5" text-anchor="end" textLength="39.63" lengthAdjust="spacingAndGlyphs" >0.85</text>
<line x1="921.80" y1="12.80" x2="925.40" y2="12.80" stroke="#383838" stroke-width="1.1"/>
<text x="918.60" y="20.40" font-size="19.5" text-anchor="end" textLength="39.63" lengthAdjust="spacingAndGlyphs" >0.95</text>
<line x1="54.60" y1="538.50" x2="58.20" y2="538.50" stroke="#383838" stroke-width="1.1"/>
<text x="51.30" y="546.10" font-size="19.5" text-anchor="end" textLength="28.31" lengthAdjust="spacingAndGlyphs" >0.2</text>
<line x1="54.60" y1="470.24" x2="58.20" y2="470.24" stroke="#383838" stroke-width="1.1"/>
<text x="51.30" y="477.84" font-size="19.5" text-anchor="end" textLength="28.31" lengthAdjust="spacingAndGlyphs" >0.4</text>
<line x1="54.60" y1="401.98" x2="58.20" y2="401.98" stroke="#383838" stroke-width="1.1"/>
<text x="51.30" y="409.58" font-size="19.5" text-anchor="end" textLength="28.31" lengthAdjust="spacingAndGlyphs" >0.6</text>
<line x1="54.60" y1="333.72" x2="58.20" y2="333.72" stroke="#383838" stroke-width="1.1"/>
<text x="51.30" y="341.32" font-size="19.5" text-anchor="end" textLength="28.31" lengthAdjust="spacingAndGlyphs" >0.8</text>
<line x1="488.60" y1="549.90" x2="492.20" y2="549.90" stroke="#383838" stroke-width="1.1"/>
<text x="485.00" y="557.50" font-size="19.5" text-anchor="end" textLength="39.63" lengthAdjust="spacingAndGlyphs" >0.05</text>
<line x1="488.60" y1="471.07" x2="492.20" y2="471.07" stroke="#383838" stroke-width="1.1"/>
<text x="485.00" y="478.67" font-size="19.5" text-anchor="end" textLength="39.63" lengthAdjust="spacingAndGlyphs" >0.10</text>
<line x1="488.60" y1="392.24" x2="492.20" y2="392.24" stroke="#383838" stroke-width="1.1"/>
<text x="485.00" y="399.84" font-size="19.5" text-anchor="end" textLength="39.63" lengthAdjust="spacingAndGlyphs" >0.15</text>
<line x1="488.60" y1="313.40" x2="492.20" y2="313.40" stroke="#383838" stroke-width="1.1"/>
<text x="485.00" y="321.00" font-size="19.5" text-anchor="end" textLength="39.63" lengthAdjust="spacingAndGlyphs" >0.20</text>
<line x1="921.80" y1="567.50" x2="925.40" y2="567.50" stroke="#383838" stroke-width="1.1"/>
<text x="909.80" y="574.70" font-size="19.5" text-anchor="end" textLength="22.65" lengthAdjust="spacingAndGlyphs" >10</text>
<text x="910.6" y="567.20" font-size="13">2</text>
<line x1="921.80" y1="448.20" x2="925.40" y2="448.20" stroke="#383838" stroke-width="1.1"/>
<text x="909.80" y="455.40" font-size="19.5" text-anchor="end" textLength="22.65" lengthAdjust="spacingAndGlyphs" >10</text>
<text x="910.6" y="447.90" font-size="13">3</text>
<line x1="921.80" y1="328.90" x2="925.40" y2="328.90" stroke="#383838" stroke-width="1.1"/>
<text x="909.80" y="336.10" font-size="19.5" text-anchor="end" textLength="22.65" lengthAdjust="spacingAndGlyphs" >10</text>
<text x="910.6" y="328.60" font-size="13">4</text>
<line x1="923.20" y1="579.06" x2="925.40" y2="579.06" stroke="#383838" stroke-width="0.9"/>
<line x1="923.20" y1="572.96" x2="925.40" y2="572.96" stroke="#383838" stroke-width="0.9"/>
<line x1="923.20" y1="531.59" x2="925.40" y2="531.59" stroke="#383838" stroke-width="0.9"/>
<line x1="923.20" y1="510.58" x2="925.40" y2="510.58" stroke="#383838" stroke-width="0.9"/>
<line x1="923.20" y1="495.67" x2="925.40" y2="495.67" stroke="#383838" stroke-width="0.9"/>
<line x1="923.20" y1="484.11" x2="925.40" y2="484.11" stroke="#383838" stroke-width="0.9"/>
<line x1="923.20" y1="474.67" x2="925.40" y2="474.67" stroke="#383838" stroke-width="0.9"/>
<line x1="923.20" y1="466.68" x2="925.40" y2="466.68" stroke="#383838" stroke-width="0.9"/>
<line x1="923.20" y1="459.76" x2="925.40" y2="459.76" stroke="#383838" stroke-width="0.9"/>
<line x1="923.20" y1="453.66" x2="925.40" y2="453.66" stroke="#383838" stroke-width="0.9"/>
<line x1="923.20" y1="412.29" x2="925.40" y2="412.29" stroke="#383838" stroke-width="0.9"/>
<line x1="923.20" y1="391.28" x2="925.40" y2="391.28" stroke="#383838" stroke-width="0.9"/>
<line x1="923.20" y1="376.37" x2="925.40" y2="376.37" stroke="#383838" stroke-width="0.9"/>
<line x1="923.20" y1="364.81" x2="925.40" y2="364.81" stroke="#383838" stroke-width="0.9"/>
<line x1="923.20" y1="355.37" x2="925.40" y2="355.37" stroke="#383838" stroke-width="0.9"/>
<line x1="923.20" y1="347.38" x2="925.40" y2="347.38" stroke="#383838" stroke-width="0.9"/>
<line x1="923.20" y1="340.46" x2="925.40" y2="340.46" stroke="#383838" stroke-width="0.9"/>
<line x1="923.20" y1="334.36" x2="925.40" y2="334.36" stroke="#383838" stroke-width="0.9"/>
<text transform="translate(15.9,139.5) rotate(-90)" font-size="19.6" text-anchor="middle" font-style="italic" >A</text>
<text transform="translate(437.9,139.5) rotate(-90)" font-size="20.3" text-anchor="middle" font-style="italic" >α</text>
<text transform="translate(870.4,139.5) rotate(-90)" font-size="18.5" text-anchor="middle" font-style="italic" >β</text>
<text transform="translate(15.1,447.0) rotate(-90)" font-size="19.3" text-anchor="middle" font-style="italic" >γ</text>
<text transform="translate(437.0,447.9) rotate(-90)" font-size="18.5" text-anchor="middle"><tspan font-style="italic">σ</tspan><tspan font-size="14.2" dy="2.9">log</tspan></text>
<text transform="translate(879.9,447.0) rotate(-90)" font-size="19.5" text-anchor="middle"  textLength="69.5" lengthAdjust="spacingAndGlyphs">number</text>
<text x="160.50" y="622.3" font-size="18.5" textLength="26.5" lengthAdjust="spacingAndGlyphs">log</text>
<text x="188.30" y="625.4" font-size="13.9" textLength="16.2" lengthAdjust="spacingAndGlyphs">10</text>
<text x="208.10" y="622.3" font-size="18.5">(</text>
<text x="215.50" y="622.3" font-size="18.5" font-style="italic" textLength="15.5" lengthAdjust="spacingAndGlyphs">M</text>
<text x="230.30" y="625.4" font-size="13.9" textLength="27" lengthAdjust="spacingAndGlyphs">host</text>
<text x="257.50" y="622.3" font-size="18.5" font-style="italic">/</text>
<text x="264.80" y="622.3" font-size="18.5" font-style="italic" textLength="15.5" lengthAdjust="spacingAndGlyphs">M</text>
<circle cx="285.00" cy="621.4" r="3.9" fill="none" stroke="#000" stroke-width="1.1"/>
<circle cx="285.00" cy="621.4" r="1.1" fill="#000"/>
<text x="291.30" y="622.3" font-size="18.5">)</text>
<text x="594.20" y="622.3" font-size="18.5" textLength="26.5" lengthAdjust="spacingAndGlyphs">log</text>
<text x="622.00" y="625.4" font-size="13.9" textLength="16.2" lengthAdjust="spacingAndGlyphs">10</text>
<text x="641.80" y="622.3" font-size="18.5">(</text>
<text x="649.20" y="622.3" font-size="18.5" font-style="italic" textLength="15.5" lengthAdjust="spacingAndGlyphs">M</text>
<text x="664.00" y="625.4" font-size="13.9" textLength="27" lengthAdjust="spacingAndGlyphs">host</text>
<text x="691.20" y="622.3" font-size="18.5" font-style="italic">/</text>
<text x="698.50" y="622.3" font-size="18.5" font-style="italic" textLength="15.5" lengthAdjust="spacingAndGlyphs">M</text>
<circle cx="718.70" cy="621.4" r="3.9" fill="none" stroke="#000" stroke-width="1.1"/>
<circle cx="718.70" cy="621.4" r="1.1" fill="#000"/>
<text x="725.00" y="622.3" font-size="18.5">)</text>
<text x="1027.75" y="622.3" font-size="18.5" textLength="26.5" lengthAdjust="spacingAndGlyphs">log</text>
<text x="1055.55" y="625.4" font-size="13.9" textLength="16.2" lengthAdjust="spacingAndGlyphs">10</text>
<text x="1075.35" y="622.3" font-size="18.5">(</text>
<text x="1082.75" y="622.3" font-size="18.5" font-style="italic" textLength="15.5" lengthAdjust="spacingAndGlyphs">M</text>
<text x="1097.55" y="625.4" font-size="13.9" textLength="27" lengthAdjust="spacingAndGlyphs">host</text>
<text x="1124.75" y="622.3" font-size="18.5" font-style="italic">/</text>
<text x="1132.05" y="622.3" font-size="18.5" font-style="italic" textLength="15.5" lengthAdjust="spacingAndGlyphs">M</text>
<circle cx="1152.25" cy="621.4" r="3.9" fill="none" stroke="#000" stroke-width="1.1"/>
<circle cx="1152.25" cy="621.4" r="1.1" fill="#000"/>
<text x="1158.55" y="622.3" font-size="18.5">)</text>
<rect x="65.5" y="464.2" width="164.1" height="110.30000000000001" rx="4" ry="4" fill="#fff" fill-opacity="0.8" stroke="#cccccc" stroke-width="1.1"/>
<polyline points="71.20,476.10 101.20,476.10" fill="none" stroke="#000" stroke-width="1.9" stroke-dasharray="5.2 2.2" stroke-linejoin="round"/>
<text x="111.60" y="481.10" font-size="15.0" text-anchor="start" textLength="44.53" lengthAdjust="spacingAndGlyphs" >model</text>
<polyline points="71.20,497.00 101.20,497.00" fill="none" stroke="#4878d0" stroke-width="1.9" stroke-linejoin="round"/>
<line x1="85.6" y1="489.70" x2="85.6" y2="504.30" stroke="#4878d0" stroke-width="1.7"/>
<line x1="82.0" y1="489.70" x2="89.2" y2="489.70" stroke="#4878d0" stroke-width="1.5"/>
<line x1="82.0" y1="504.30" x2="89.2" y2="504.30" stroke="#4878d0" stroke-width="1.5"/>
<text x="111.60" y="502.00" font-size="15.0" text-anchor="start" textLength="72.06" lengthAdjust="spacingAndGlyphs" >TNG100-1</text>
<polyline points="71.20,518.20 101.20,518.20" fill="none" stroke="#ee854a" stroke-width="1.9" stroke-linejoin="round"/>
<line x1="85.6" y1="510.90" x2="85.6" y2="525.50" stroke="#ee854a" stroke-width="1.7"/>
<line x1="82.0" y1="510.90" x2="89.2" y2="510.90" stroke="#ee854a" stroke-width="1.5"/>
<line x1="82.0" y1="525.50" x2="89.2" y2="525.50" stroke="#ee854a" stroke-width="1.5"/>
<text x="111.60" y="523.20" font-size="15.0" text-anchor="start" textLength="72.06" lengthAdjust="spacingAndGlyphs" >TNG300-1</text>
<polyline points="71.20,539.70 101.20,539.70" fill="none" stroke="#4878d0" stroke-width="1.9" stroke-dasharray="5.2 2.2" stroke-linejoin="round"/>
<line x1="85.6" y1="532.40" x2="85.6" y2="547.00" stroke="#4878d0" stroke-width="1.7"/>
<line x1="82.0" y1="532.40" x2="89.2" y2="532.40" stroke="#4878d0" stroke-width="1.5"/>
<line x1="82.0" y1="547.00" x2="89.2" y2="547.00" stroke="#4878d0" stroke-width="1.5"/>
<text x="111.60" y="544.70" font-size="15.0" text-anchor="start" textLength="111.16" lengthAdjust="spacingAndGlyphs" >TNG100-1-Dark</text>
<polyline points="71.20,560.20 101.20,560.20" fill="none" stroke="#ee854a" stroke-width="1.9" stroke-dasharray="5.2 2.2" stroke-linejoin="round"/>
<line x1="85.6" y1="552.90" x2="85.6" y2="567.50" stroke="#ee854a" stroke-width="1.7"/>
<line x1="82.0" y1="552.90" x2="89.2" y2="552.90" stroke="#ee854a" stroke-width="1.5"/>
<line x1="82.0" y1="567.50" x2="89.2" y2="567.50" stroke="#ee854a" stroke-width="1.5"/>
<text x="111.60" y="565.20" font-size="15.0" text-anchor="start" textLength="111.16" lengthAdjust="spacingAndGlyphs" >TNG300-1-Dark</text>
<rect x="662.7" y="485.5" width="163.69999999999993" height="88.79999999999995" rx="4" ry="4" fill="#fff" fill-opacity="0.8" stroke="#cccccc" stroke-width="1.1"/>
<polyline points="667.70,497.00 698.10,497.00" fill="none" stroke="#4878d0" stroke-width="1.9" stroke-linejoin="round"/>
<circle cx="682.9" cy="497.0" r="3.4" fill="#4878d0"/>
<text x="708.00" y="502.00" font-size="15.0" text-anchor="start" textLength="72.06" lengthAdjust="spacingAndGlyphs" >TNG100-1</text>
<polyline points="667.70,518.40 698.10,518.40" fill="none" stroke="#ee854a" stroke-width="1.9" stroke-linejoin="round"/>
<polygon points="682.9,514.70 686.60,522.10 679.20,522.10" fill="#ee854a"/>
<text x="708.00" y="523.40" font-size="15.0" text-anchor="start" textLength="72.06" lengthAdjust="spacingAndGlyphs" >TNG100-1</text>
<polyline points="667.70,539.50 698.10,539.50" fill="none" stroke="#4878d0" stroke-width="1.9" stroke-dasharray="5.2 2.2" stroke-linejoin="round"/>
<circle cx="682.9" cy="539.5" r="3.4" fill="#4878d0"/>
<text x="708.00" y="544.50" font-size="15.0" text-anchor="start" textLength="111.16" lengthAdjust="spacingAndGlyphs" >TNG100-1-Dark</text>
<polyline points="667.70,560.60 698.10,560.60" fill="none" stroke="#ee854a" stroke-width="1.9" stroke-dasharray="5.2 2.2" stroke-linejoin="round"/>
<circle cx="682.9" cy="560.6" r="3.4" fill="#ee854a"/>
<text x="708.00" y="565.60" font-size="15.0" text-anchor="start" textLength="111.16" lengthAdjust="spacingAndGlyphs" >TNG300-1-Dark</text>
</svg></body></html>
